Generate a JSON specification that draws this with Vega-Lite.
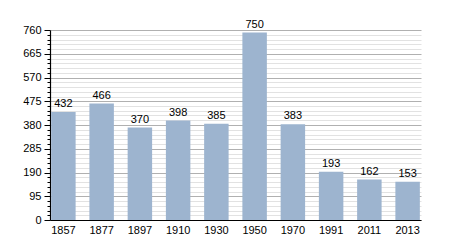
{
  "$schema": "https://vega.github.io/schema/vega-lite/v6.json",
  "autosize": "none",
  "width": 371,
  "height": 190,
  "padding": {"left": 50, "top": 30, "right": 29, "bottom": 30},
  "background": "white",
  "config": {
    "view": {"stroke": null},
    "font": "Liberation Sans",
    "axis": {"labelFont": "Liberation Sans", "labelFontSize": 11, "labelColor": "#000"}
  },
  "data": {
    "values": [
      {"year": "1857", "pop": 432},
      {"year": "1877", "pop": 466},
      {"year": "1897", "pop": 370},
      {"year": "1910", "pop": 398},
      {"year": "1930", "pop": 385},
      {"year": "1950", "pop": 750},
      {"year": "1970", "pop": 383},
      {"year": "1991", "pop": 193},
      {"year": "2011", "pop": 162},
      {"year": "2013", "pop": 153}
    ]
  },
  "encoding": {
    "x": {
      "field": "year", "type": "ordinal", "sort": null,
      "scale": {"paddingInner": 0.36, "paddingOuter": 0.03},
      "axis": {"title": null, "labelAngle": 0, "ticks": false, "domainColor": "#000", "domainWidth": 1.2, "labelPadding": 4}
    },
    "y": {
      "field": "pop", "type": "quantitative",
      "scale": {"domain": [0, 760], "nice": false},
      "axis": {
        "title": null,
        "values": [0,19,38,57,76,95,114,133,152,171,190,209,228,247,266,285,304,323,342,361,380,399,418,437,456,475,494,513,532,551,570,589,608,627,646,665,684,703,722,741,760],
        "labelExpr": "datum.value % 95 === 0 ? datum.label : ''",
        "grid": true,
        "gridColor": {"condition": {"test": "datum.value % 95 === 0", "value": "#b0b0b0"}, "value": "#e2e2e2"},
        "tickSize": {"condition": {"test": "datum.value % 95 === 0", "value": 6}, "value": 3},
        "tickColor": "#000",
        "domainColor": "#000",
        "domainWidth": 1.2,
        "labelPadding": 3,
        "labelFlush": false
      }
    }
  },
  "layer": [
    {"mark": {"type": "bar", "color": "#9db4cf"}},
    {
      "mark": {"type": "text", "baseline": "bottom", "dy": -3, "fontSize": 11, "color": "#000"},
      "encoding": {"text": {"field": "pop", "type": "quantitative"}}
    }
  ]
}
